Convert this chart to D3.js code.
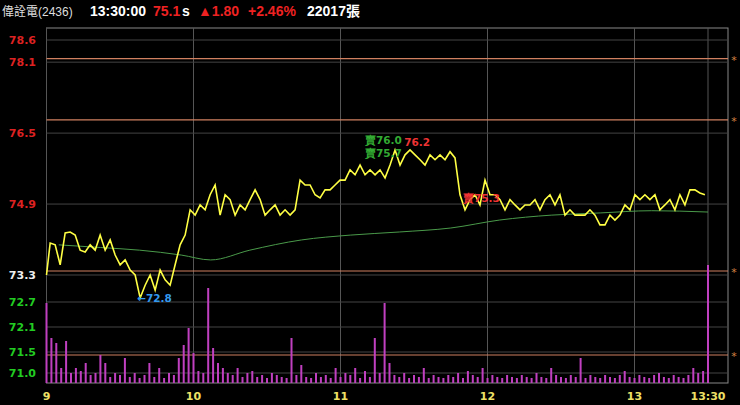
<!DOCTYPE html><html><head><meta charset="utf-8"><script src="https://cdn.jsdelivr.net/npm/d3@7"></script>
<style>body{margin:0;background:#000}svg{display:block}</style></head><body><svg id="c" width="740" height="405"></svg>
<script>
const priceTicks=[78.6,78.1,76.5,74.9,73.3];
const volTicks=["72.7","72.1","71.5","71.0"];
const volTickVals=[81,56,31,10];
const timeTicks=[{t:0,l:"9"},{t:60,l:"10"},{t:120,l:"11"},{t:180,l:"12"},{t:240,l:"13"},{t:270,l:"13:30"}];
const refPrices=[78.18,76.80,73.39];
const refVol=28;
const prices=[73.30,74.02,73.98,73.53,74.25,74.27,74.20,73.86,73.82,73.98,73.86,74.20,73.86,74.09,73.75,73.53,73.64,73.41,73.30,72.78,73.07,73.30,72.96,73.41,73.19,73.07,73.53,73.98,74.20,74.77,74.65,74.88,74.77,75.11,75.33,74.65,75.11,75.00,74.65,74.88,74.77,75.00,75.22,75.00,74.65,74.77,74.88,74.65,74.77,74.65,74.77,75.44,75.33,75.33,75.11,75.04,75.22,75.22,75.33,75.44,75.44,75.67,75.56,75.78,75.56,75.67,75.56,75.67,75.49,75.78,76.12,75.78,76.01,76.12,76.01,75.90,75.78,76.01,75.90,76.01,75.90,76.08,75.94,75.11,74.77,75.00,75.11,74.88,75.44,75.11,75.11,75.00,74.77,75.00,74.88,74.77,74.88,74.88,75.00,74.77,75.00,75.11,74.88,75.11,74.65,74.77,74.65,74.65,74.65,74.77,74.65,74.43,74.43,74.65,74.54,74.65,74.88,74.77,75.11,75.00,75.11,75.00,75.11,74.77,74.88,75.00,74.77,75.11,74.88,75.22,75.22,75.15,75.11];
const priceStart=1.5, priceStep=2.04;
const avgTimes=[5,22,38,55,67,83,104,124,144,165,185,206,226,247,270];
const avgPrices=[73.98,73.92,73.86,73.75,73.64,73.86,74.09,74.20,74.27,74.36,74.54,74.65,74.70,74.75,74.72];
const volumes=[80,45,40,15,42,10,15,12,20,8,10,28,20,6,10,8,25,6,10,5,8,20,6,15,5,10,8,25,38,55,30,12,10,95,35,20,15,10,8,15,6,10,12,6,8,5,10,8,6,5,45,8,18,6,5,10,6,8,5,15,6,10,8,15,5,12,6,45,10,80,20,8,6,10,5,8,6,15,5,8,6,5,8,6,10,5,12,8,6,15,5,8,6,5,8,6,5,8,6,5,10,6,5,15,8,6,5,8,6,25,5,8,6,5,8,6,5,8,12,6,5,8,6,5,8,10,6,5,8,6,5,8,15,10,12,118];
const notes=[{t:130,p:76.25,txt:"賣76.0",c:"#33aa33"},{t:146,p:76.22,txt:"76.2",c:"#ee3333"},{t:130,p:75.97,txt:"賣75.7",c:"#33aa33"},{t:170,p:74.95,txt:"賣75.3",c:"#ee3333"},{t:37,p:72.7,txt:"←72.8",c:"#3399ee"}];

const svg=d3.select("#c");
const x=d3.scaleLinear().domain([0,270]).range([46.5,708]);
const y=d3.scaleLinear().domain([73.3,78.6]).range([275,40]);
const yv=d3.scaleLinear().domain([0,118]).range([383,265]);
const L=46.5,R=728,T=28,B=383;
const hs=[{x:2,t:"偉詮電(2436)",c:"#ddd",w:"normal",s:12},{x:90,t:"13:30:00",c:"#fff",w:"bold",s:14},{x:153,t:"75.1",c:"#e22",w:"bold",s:14},{x:182,t:"s",c:"#fff",w:"bold",s:14},{x:198,t:"▲1.80",c:"#e22",w:"bold",s:14},{x:248,t:"+2.46%",c:"#e22",w:"bold",s:14},{x:307,t:"22017張",c:"#fff",w:"bold",s:14}];
hs.forEach(d=>svg.append("text").attr("x",d.x).attr("y",16).attr("fill",d.c).attr("font-weight",d.w).attr("font-size",d.s).attr("font-family","Liberation Sans, Noto Sans CJK TC").text(d.t));
svg.append("rect").attr("x",L).attr("y",T).attr("width",R-L).attr("height",B-T).attr("fill","none").attr("stroke","#888");
timeTicks.forEach(d=>{svg.append("line").attr("x1",x(d.t)).attr("x2",x(d.t)).attr("y1",T).attr("y2",B).attr("stroke","#555");
 svg.append("text").attr("x",x(d.t)).attr("y",400).attr("text-anchor","middle").attr("fill","#eee066").attr("font-family","DejaVu Sans").attr("font-weight","bold").attr("font-size",11).text(d.l);});
priceTicks.forEach(p=>{svg.append("line").attr("x1",L).attr("x2",R).attr("y1",y(p)).attr("y2",y(p)).attr("stroke","#444");
 svg.append("text").attr("x",36).attr("y",y(p)+4).attr("text-anchor","end").attr("fill",p>73.3?"#dd2222":"#eee").attr("font-family","DejaVu Sans").attr("font-weight","bold").attr("font-size",11).text(p.toFixed(1));});
volTicks.forEach((l,i)=>{const yy=yv(volTickVals[i]);svg.append("line").attr("x1",L).attr("x2",R).attr("y1",yy).attr("y2",yy).attr("stroke","#444");
 svg.append("text").attr("x",36).attr("y",yy+4).attr("text-anchor","end").attr("fill","#22cc22").attr("font-family","DejaVu Sans").attr("font-weight","bold").attr("font-size",11).text(l);});
const refYs=refPrices.map(p=>y(p)).concat([yv(refVol)]);
refYs.forEach(yy=>{svg.append("line").attr("x1",L).attr("x2",R).attr("y1",yy).attr("y2",yy).attr("stroke","#d08060").attr("stroke-width",1.2);
 svg.append("text").attr("x",734).attr("y",yy+5).attr("text-anchor","middle").attr("fill","#d08040").attr("font-size",11).attr("font-family","DejaVu Sans").text("*");});
svg.append("g").selectAll("rect").data(volumes).join("rect").attr("x",(d,i)=>x(i*2)-1).attr("width",2).attr("y",d=>yv(d)).attr("height",d=>yv(0)-yv(d)).attr("fill","#c040c0");
svg.append("path").datum(avgTimes.map((t,i)=>[t,avgPrices[i]])).attr("fill","none").attr("stroke","#4a9a4a").attr("d",d3.line().x(d=>x(d[0])).y(d=>y(d[1])).curve(d3.curveMonotoneX));
const pts=prices.map((p,i)=>[i===0?0:priceStart+(i-1)*priceStep,p]);
svg.append("path").datum(pts).attr("fill","none").attr("stroke","#ffff44").attr("stroke-width",1.6).attr("d",d3.line().x(d=>x(d[0])).y(d=>y(d[1])));
notes.forEach(n=>svg.append("text").attr("x",x(n.t)).attr("y",y(n.p)).attr("fill",n.c).attr("font-family","DejaVu Sans").attr("font-weight","bold").attr("font-size",10.5).text(n.txt));
</script></body></html>
